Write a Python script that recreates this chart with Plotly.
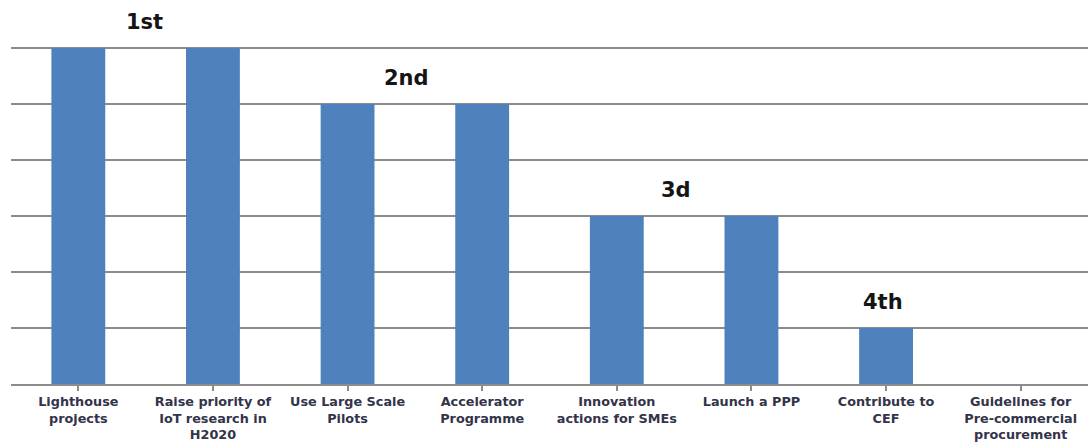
import plotly.graph_objects as go

categories = [
    "Lighthouse<br>projects",
    "Raise priority of<br>IoT research in<br>H2020",
    "Use Large Scale<br>Pilots",
    "Accelerator<br>Programme",
    "Innovation<br>actions for SMEs",
    "Launch a PPP",
    "Contribute to<br>CEF",
    "Guidelines for<br>Pre-commercial<br>procurement",
]
votes = [6, 6, 5, 5, 3, 3, 1, 0]

rank_labels = ["1st", "2nd", "3d", "4th"]
rank_x = [0.49, 2.44, 4.44, 5.98]
rank_y = [6, 5, 3, 1]

fig = go.Figure(
    go.Bar(
        x=list(range(len(categories))),
        y=votes,
        marker=dict(color="#4f81bd", line=dict(width=0)),
        width=0.4,
        hoverinfo="skip",
    )
)

for label, x, y in zip(rank_labels, rank_x, rank_y):
    fig.add_annotation(
        x=x, y=y + 0.47, text=f"<b>{label}</b>", showarrow=False,
        font=dict(family="DejaVu Sans, sans-serif", size=21, color="#151515"),
    )

fig.update_layout(
    width=1088, height=444,
    margin=dict(l=11, r=0, t=0, b=60),
    paper_bgcolor="white", plot_bgcolor="white",
    showlegend=False,
    font=dict(family="DejaVu Sans, sans-serif", size=12.8, color="#33334a",
              weight="bold"),
)
fig.update_xaxes(
    tickmode="array",
    tickvals=list(range(len(categories))),
    ticktext=categories,
    range=[-0.5, len(categories) - 0.5],
    showline=True, linecolor="#8c8c8c", linewidth=1.5,
    ticks="outside", ticklen=5, tickcolor="#8c8c8c", tickwidth=1.5,
    tickson="boundaries",
    showgrid=False,
)
fig.update_yaxes(
    range=[0, 384 / 56],
    dtick=1, tick0=0,
    showgrid=True, gridcolor="#8c8c8c", gridwidth=1.5,
    showticklabels=False, zeroline=False, showline=False,
)

fig.write_html("out.html")
